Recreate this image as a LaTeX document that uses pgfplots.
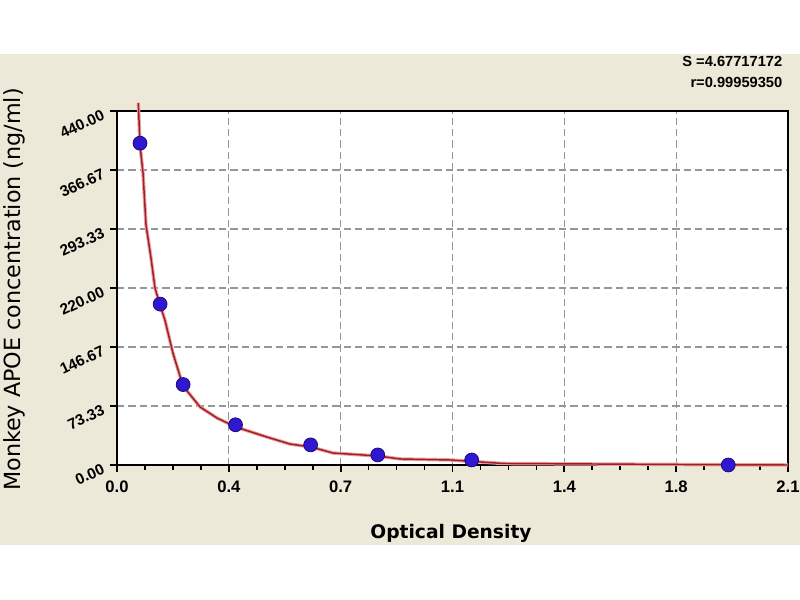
\documentclass[border=0pt]{standalone}
\usepackage{fontspec}
\setmainfont{Liberation Sans}
\newfontfamily\dejavu{DejaVu Sans}
\usepackage{pgfplots}
\pgfplotsset{compat=1.18}
\definecolor{bgbeige}{RGB}{236,233,216}
\definecolor{ptblue}{RGB}{48,24,210}
\definecolor{ptedge}{RGB}{30,10,120}
\definecolor{curvered}{RGB}{160,30,40}
\definecolor{curvepink}{RGB}{235,160,160}
\definecolor{gridgray}{RGB}{150,150,150}
\begin{document}
\begin{tikzpicture}[x=0.75pt,y=0.75pt]
\fill[white] (0,0) rectangle (800,600);
\path[use as bounding box] (0,0) rectangle (800,600);
\fill[bgbeige] (0,55) rectangle (800,546);
\begin{axis}[
  at={(87.75pt,101.25pt)}, anchor=south west,
  scale only axis, width=503.25pt, height=265.5pt,
  xmin=0, xmax=2.1, ymin=0, ymax=440,
  clip=false,
  axis background/.style={fill=white},
  axis line style={black, line width=1.5pt},
  xtick={0,0.35,0.7,1.05,1.4,1.75,2.1},
  xticklabels={0.0,0.4,0.7,1.1,1.4,1.8,2.1},
  ytick={0,73.3333,146.6667,220,293.3333,366.6667,440},
  yticklabels={0.00,73.33,146.67,220.00,293.33,366.67,440.00},
  minor x tick num=3, minor y tick num=3,
  tick align=outside, tick pos=left,
  major tick length=5.25pt, minor tick length=3.4pt,
  every tick/.style={black, line width=1.3pt},
  grid=major,
  major grid style={gridgray, line width=0.9pt, dash pattern=on 5.5pt off 3pt},
  xticklabel style={font=\bfseries\fontsize{12.5}{13}\selectfont, yshift=-3pt},
  yticklabel style={font=\bfseries\fontsize{11.5}{12}\selectfont, rotate=25, anchor=east, xshift=-2pt},
]
\addplot[curvepink, line width=2.6pt] coordinates {
(0.0667,450) (0.072,397.7) (0.0814,362.9) (0.0908,298.3) (0.1064,257.3)
(0.1189,220.0) (0.1346,198.9) (0.150,180.2) (0.175,139.2) (0.2066,98.2)
(0.260,72.1) (0.313,58.4) (0.372,47.2) (0.469,34.8) (0.541,26.1)
(0.607,22.4) (0.676,14.9) (0.817,11.2) (0.886,7.5) (1.045,6.2)
(1.208,1.9) (1.862,0.4) (2.1,0)};
\addplot[curvered, line width=1.1pt] coordinates {
(0.0667,450) (0.072,397.7) (0.0814,362.9) (0.0908,298.3) (0.1064,257.3)
(0.1189,220.0) (0.1346,198.9) (0.150,180.2) (0.175,139.2) (0.2066,98.2)
(0.260,72.1) (0.313,58.4) (0.372,47.2) (0.469,34.8) (0.541,26.1)
(0.607,22.4) (0.676,14.9) (0.817,11.2) (0.886,7.5) (1.045,6.2)
(1.208,1.9) (1.862,0.4) (2.1,0)};
\addplot[only marks, mark=*, mark size=5.2pt, mark options={fill=ptblue, draw=ptedge, line width=0.6pt}] coordinates {
(0.072,400) (0.135,200) (0.207,100) (0.371,50) (0.606,25) (0.816,12.5) (1.110,6.25) (1.913,0)};
\end{axis}
\node[font=\dejavu\bfseries\fontsize{14}{14}\selectfont] at (451,67) {Optical Density};
\node[rotate=90, font=\dejavu\fontsize{16.7}{17}\selectfont] at (14,310.5) {Monkey APOE concentration (ng/ml)};
\node[anchor=east, font=\bfseries\fontsize{11}{11}\selectfont] at (787,538.5) {S =4.67717172};
\node[anchor=east, font=\bfseries\fontsize{11}{11}\selectfont] at (787,517.5) {r=0.99959350};
\end{tikzpicture}
\end{document}
